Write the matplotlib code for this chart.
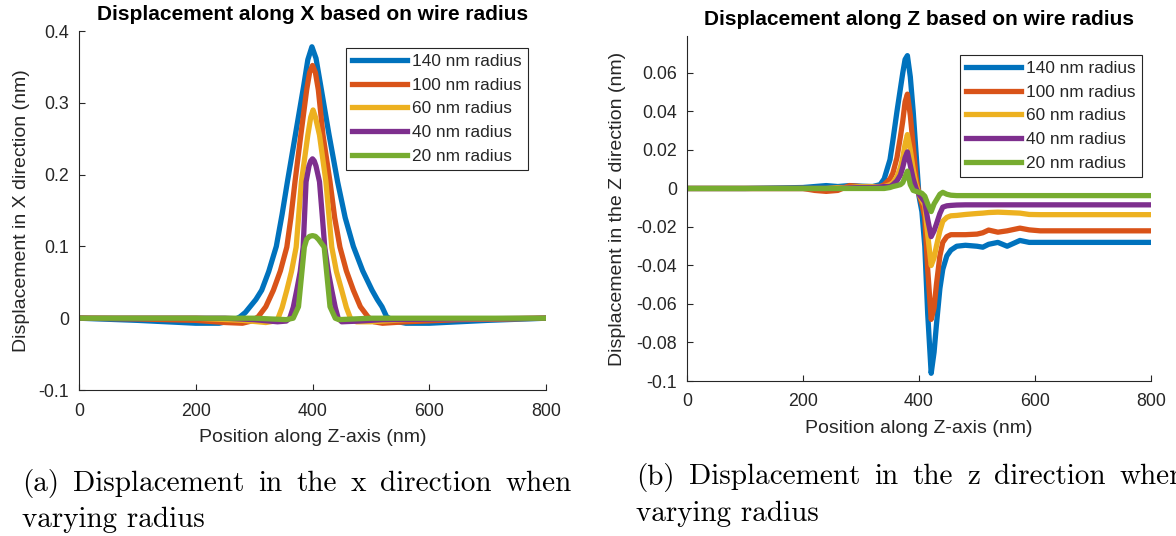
import numpy as np
import matplotlib
matplotlib.use("Agg")
import matplotlib.pyplot as plt

plt.rcParams["font.family"] = ["Liberation Sans", "DejaVu Sans"]
plt.rcParams["axes.unicode_minus"] = False

# ---------------------------------------------------------------------------
# Data
# ---------------------------------------------------------------------------
radius_labels = ["140 nm radius", "100 nm radius", "60 nm radius",
                 "40 nm radius", "20 nm radius"]
colors = ["#0072BD", "#D95319", "#EDB120", "#7E2F8E", "#77AC30"]

# Displacement along X (nm) against position along the Z axis (nm)
pos_x_140 = [0, 100, 150, 200, 240, 265, 276, 285, 293, 303, 313, 325, 338,
             348, 357, 371, 385, 392, 399, 406, 414, 428, 443, 456, 470, 486,
             502, 511, 519, 527, 540, 560, 600, 650, 700, 800]
disp_x_140 = [0, -0.003, -0.005, -0.007, -0.007, -0.003, 0.002, 0.008, 0.016,
              0.026, 0.039, 0.065, 0.100, 0.145, 0.190, 0.257, 0.324, 0.360,
              0.378, 0.362, 0.324, 0.257, 0.190, 0.140, 0.100, 0.066, 0.039,
              0.026, 0.016, 0.002, -0.004, -0.007, -0.007, -0.005, -0.003, 0]

pos_x_100 = [0, 100, 200, 250, 280, 295, 307, 320, 333, 345, 356, 363, 370,
             380, 390, 395, 400, 405, 410, 418, 430, 438, 447, 458, 470, 482,
             495, 505, 520, 560, 650, 800]
disp_x_100 = [0, -0.001, -0.003, -0.006, -0.007, -0.004, 0.002, 0.016, 0.039,
              0.066, 0.099, 0.140, 0.190, 0.255, 0.318, 0.342, 0.352, 0.342,
              0.318, 0.255, 0.190, 0.140, 0.099, 0.066, 0.039, 0.016, 0.002,
              -0.005, -0.007, -0.005, -0.002, 0]

pos_x_60 = [0, 200, 280, 320, 335, 341, 348, 356, 364, 372, 381, 392, 397,
            401, 405, 412, 423, 433, 441, 450, 458, 465, 475, 500, 560, 800]
disp_x_60 = [0, 0, -0.003, -0.006, -0.004, 0.0, 0.015, 0.039, 0.065, 0.099,
             0.190, 0.255, 0.280, 0.290, 0.280, 0.255, 0.190, 0.099, 0.065,
             0.039, 0.015, 0.0, -0.005, -0.005, -0.002, 0]

pos_x_40 = [0, 250, 300, 340, 355, 361, 367, 373, 379, 384, 389, 394, 397,
            400, 403, 406, 412, 417, 421, 427, 433, 439, 444, 450, 480, 520, 800]
disp_x_40 = [0, 0, -0.002, -0.005, -0.004, 0.0, 0.015, 0.039, 0.065, 0.099,
             0.190, 0.212, 0.219, 0.222, 0.219, 0.212, 0.190, 0.140, 0.099,
             0.065, 0.039, 0.015, 0.0, -0.005, -0.004, -0.002, 0]

pos_x_20 = [0, 300, 355, 367, 376, 386, 390, 395, 400, 405, 410, 420, 430,
            439, 445, 500, 800]
disp_x_20 = [0, 0, -0.002, 0.0, 0.016, 0.099, 0.110, 0.114, 0.115, 0.114,
             0.110, 0.099, 0.016, 0.0, -0.002, 0, 0]

# Displacement along Z (nm) on a shared position grid (nm)
pos_z = [0, 100, 200, 220, 240, 260, 280, 300, 320, 333, 340, 350, 355, 362,
         368, 372, 376, 380, 385, 390, 395, 400, 405, 410, 415, 421, 426, 430,
         436, 441, 448, 455, 465, 480, 500, 510, 520, 536, 552, 574, 590, 609,
         650, 700, 800]
disp_z_140 = [0, 0, 0.0005, 0.001, 0.0015, 0.001, 0.0015, 0.0012, 0.001,
              0.002, 0.005, 0.015, 0.025, 0.040, 0.052, 0.060, 0.067, 0.069,
              0.058, 0.040, 0.018, -0.004, -0.012, -0.030, -0.065, -0.096,
              -0.085, -0.071, -0.052, -0.042, -0.035, -0.032, -0.030, -0.0295,
              -0.030, -0.0305, -0.029, -0.028, -0.030, -0.027, -0.028, -0.028,
              -0.028, -0.028, -0.028]
disp_z_100 = [0, 0, 0, -0.001, -0.0015, -0.001, 0.0015, 0.001, 0.0005, 0.001,
              0.002, 0.005, 0.008, 0.016, 0.027, 0.035, 0.045, 0.049, 0.038,
              0.022, 0.006, -0.003, -0.008, -0.015, -0.042, -0.068, -0.062,
              -0.050, -0.035, -0.028, -0.025, -0.024, -0.024, -0.024, -0.0237,
              -0.023, -0.0216, -0.0227, -0.022, -0.0206, -0.0215, -0.022,
              -0.022, -0.022, -0.022]
disp_z_60 = [0, 0, 0, 0, 0, 0.0005, 0.0005, 0.001, 0.001, 0.001, 0.001, 0.002,
             0.003, 0.006, 0.011, 0.016, 0.023, 0.028, 0.020, 0.010, 0.002,
             -0.003, -0.006, -0.009, -0.024, -0.040, -0.036, -0.030, -0.022,
             -0.017, -0.015, -0.0142, -0.014, -0.0135, -0.013, -0.0128,
             -0.0125, -0.0123, -0.0125, -0.0128, -0.0135, -0.0136, -0.0136,
             -0.0136, -0.0136]
disp_z_40 = [0, 0, 0, 0, 0, 0, 0.0003, 0.0005, 0.0005, 0.0008, 0.001, 0.001,
             0.002, 0.004, 0.007, 0.011, 0.016, 0.019, 0.012, 0.005, 0.0,
             -0.003, -0.005, -0.007, -0.016, -0.025, -0.022, -0.0185, -0.013,
             -0.0097, -0.009, -0.0088, -0.0086, -0.0085, -0.0085, -0.0085,
             -0.0085, -0.0085, -0.0085, -0.0085, -0.0085, -0.0085, -0.0085,
             -0.0085, -0.0085]
disp_z_20 = [0, 0, 0, 0, 0, 0, 0, 0, 0, 0, 0, 0.0005, 0.001, 0.0015, 0.002,
             0.003, 0.006, 0.009, 0.002, -0.001, -0.0015, -0.002, -0.0025,
             -0.004, -0.008, -0.012, -0.008, -0.006, -0.003, -0.002, -0.003,
             -0.0035, -0.0037, -0.0037, -0.0037, -0.0037, -0.0037, -0.0037,
             -0.0037, -0.0037, -0.0037, -0.0037, -0.0037, -0.0037, -0.0037]

x_ticks = [0, 200, 400, 600, 800]
x_tick_labels = ["0", "200", "400", "600", "800"]
yx_ticks = [-0.1, 0, 0.1, 0.2, 0.3, 0.4]
yx_tick_labels = ["-0.1", "0", "0.1", "0.2", "0.3", "0.4"]
yz_ticks = [-0.1, -0.08, -0.06, -0.04, -0.02, 0, 0.02, 0.04, 0.06]
yz_tick_labels = ["-0.1", "-0.08", "-0.06", "-0.04", "-0.02", "0",
                  "0.02", "0.04", "0.06"]

# ---------------------------------------------------------------------------
# Figure
# ---------------------------------------------------------------------------
W, H = 1176, 536
fig = plt.figure(figsize=(W / 100, H / 100), dpi=100)
fig.patch.set_facecolor("white")

AX_COLOR = "#262626"
LW = 3.8


def px_axes(left, top, right, bottom):
    return fig.add_axes([left / W, 1 - bottom / H, (right - left) / W,
                         (bottom - top) / H])


def style_axes(ax):
    for side in ("top", "right"):
        ax.spines[side].set_visible(False)
    for side in ("left", "bottom"):
        ax.spines[side].set_color(AX_COLOR)
        ax.spines[side].set_linewidth(0.8)
    ax.tick_params(direction="in", length=4, width=0.8, colors=AX_COLOR,
                   labelsize=12.8)
    ax.tick_params(axis="x", pad=9)
    ax.tick_params(axis="y", pad=7)


ax1 = px_axes(79, 31, 546, 390)
ax2 = px_axes(687, 36, 1151, 381)

series_x = [(pos_x_140, disp_x_140), (pos_x_100, disp_x_100),
            (pos_x_60, disp_x_60), (pos_x_40, disp_x_40),
            (pos_x_20, disp_x_20)]
series_z = [disp_z_140, disp_z_100, disp_z_60, disp_z_40, disp_z_20]

for (xs, ys), c, lab in zip(series_x, colors, radius_labels):
    ax1.plot(xs, ys, color=c, lw=LW, label=lab, solid_joinstyle="round")
for ys, c, lab in zip(series_z, colors, radius_labels):
    ax2.plot(pos_z, ys, color=c, lw=LW, label=lab, solid_joinstyle="round")

ax1.set_xlim(0, 800)
ax1.set_ylim(-0.1, 0.4)
ax1.set_xticks(x_ticks, x_tick_labels)
ax1.set_yticks(yx_ticks, yx_tick_labels)

ax2.set_xlim(0, 800)
ax2.set_ylim(-0.1, 0.0792)
ax2.set_xticks(x_ticks, x_tick_labels)
ax2.set_yticks(yz_ticks, yz_tick_labels)

for ax in (ax1, ax2):
    style_axes(ax)
    ax.set_xlabel("Position along Z-axis (nm)", fontsize=14, color=AX_COLOR,
                  labelpad=7)

ax1.set_ylabel("Displacement in X direction (nm)", fontsize=14,
               color=AX_COLOR, labelpad=6)
ax2.set_ylabel("Displacement in the Z direction (nm)", fontsize=14,
               color=AX_COLOR, labelpad=8)

ax1.set_title("Displacement along X based on wire radius", fontsize=15,
              fontweight="bold", pad=8)
ax2.set_title("Displacement along Z based on wire radius", fontsize=15,
              fontweight="bold", pad=8)

legend_kw = dict(loc="upper left", bbox_transform=fig.transFigure,
                 borderaxespad=0, fontsize=12.4, handlelength=3.2,
                 handletextpad=0.3, borderpad=0.35, labelspacing=0.5,
                 frameon=True, fancybox=False, framealpha=1)
for ax, (lx, ly) in ((ax1, (346, 48)), (ax2, (960, 55))):
    leg = ax.legend(bbox_to_anchor=(lx / W, 1 - ly / H), **legend_kw)
    leg.get_frame().set_edgecolor(AX_COLOR)
    leg.get_frame().set_linewidth(0.8)
    for t in leg.get_texts():
        t.set_color(AX_COLOR)

# ---------------------------------------------------------------------------
# Sub-figure captions (justified first line, serif face)
# ---------------------------------------------------------------------------
CAP_FONT = dict(family="cmr10", size=21)
renderer = fig.canvas.get_renderer()


def justified_line(words, x0, x1, yc):
    texts = [fig.text(x0 / W, 1 - yc / H, w, ha="left", va="center",
                      **CAP_FONT) for w in words]
    widths = [t.get_window_extent(renderer).width for t in texts]
    gap = (x1 - x0 - sum(widths)) / (len(words) - 1)
    x = x0
    for t, w in zip(texts, widths):
        t.set_x(x / W)
        x += w + gap


def plain_line(text, x0, yc):
    fig.text(x0 / W, 1 - yc / H, text, ha="left", va="center", **CAP_FONT)


justified_line(["(a)", "Displacement", "in", "the", "x", "direction", "when"],
               22, 572, 484)
plain_line("varying radius", 22, 520)
justified_line(["(b)", "Displacement", "in", "the", "z", "direction", "when"],
               636, 1186, 477)
plain_line("varying radius", 636, 514)

fig.savefig("out.png", dpi=100, facecolor="white")
